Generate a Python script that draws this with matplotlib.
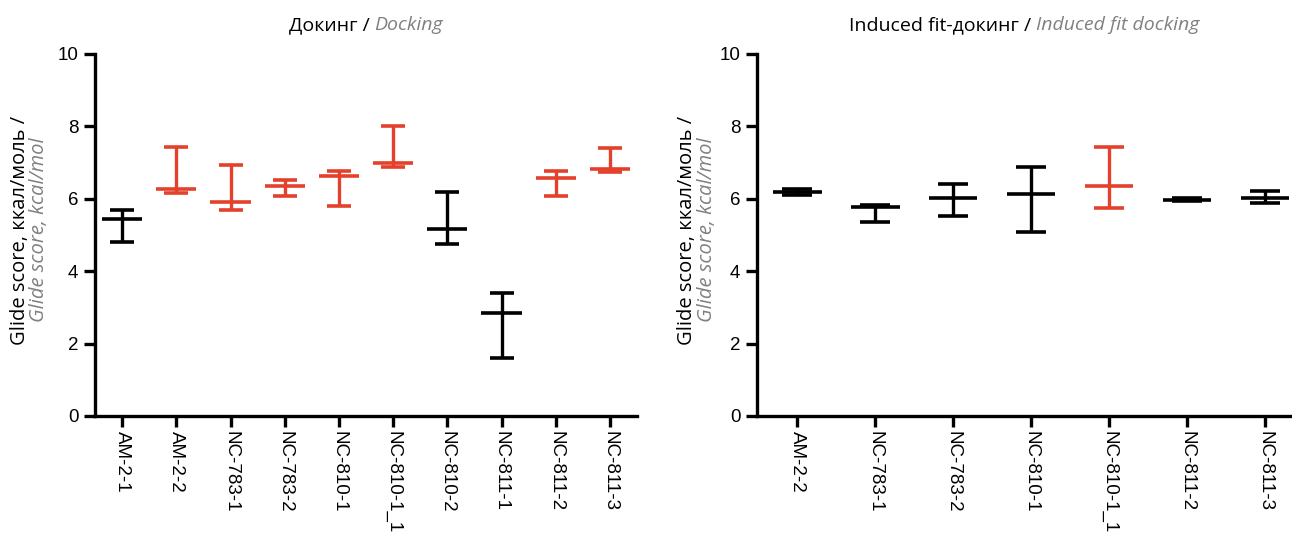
import numpy as np
import matplotlib
matplotlib.use('Agg')
import matplotlib.pyplot as plt
from matplotlib.offsetbox import TextArea, HPacker, AnchoredOffsetbox

# Docking data (min / mean / max), kcal/mol
dock_names = ['AM-2-1', 'AM-2-2', 'NC-783-1', 'NC-783-2', 'NC-810-1',
              'NC-810-1_1', 'NC-810-2', 'NC-811-1', 'NC-811-2', 'NC-811-3']
dock_mean = [5.43, 6.28, 5.91, 6.34, 6.64, 6.99, 5.17, 2.85, 6.57, 6.81]
dock_low = [4.80, 6.15, 5.68, 6.09, 5.81, 6.87, 4.76, 1.60, 6.07, 6.74]
dock_high = [5.68, 7.43, 6.92, 6.51, 6.78, 8.02, 6.18, 3.39, 6.78, 7.41]
dock_red = [False, True, True, True, True, True, False, False, True, True]

# Induced fit docking data
ifd_names = ['AM-2-2', 'NC-783-1', 'NC-783-2', 'NC-810-1', 'NC-810-1_1',
             'NC-811-2', 'NC-811-3']
ifd_mean = [6.18, 5.78, 6.03, 6.13, 6.35, 5.98, 6.01]
ifd_low = [6.10, 5.35, 5.53, 5.09, 5.74, 5.95, 5.88]
ifd_high = [6.26, 5.83, 6.40, 6.87, 7.43, 6.01, 6.22]
ifd_red = [False, False, False, False, True, False, False]

RED = '#e4402b'
W, H = 1292, 536

fig = plt.figure(figsize=(W / 100, H / 100), dpi=100)


def px_axes(x0, x1, y0, y1):
    return fig.add_axes([x0 / W, (H - y1) / H, (x1 - x0) / W, (y1 - y0) / H])


def draw_panel(ax, names, mean, low, high, red, half, cap, xlim):
    mean = np.array(mean)
    low = np.array(low)
    high = np.array(high)
    x = np.arange(len(names))
    for i in range(len(names)):
        c = RED if red[i] else 'black'
        ax.errorbar(x[i], mean[i], yerr=[[mean[i] - low[i]], [high[i] - mean[i]]],
                    fmt='none', ecolor=c, elinewidth=2.4, capsize=cap, capthick=2.6)
        ax.hlines(mean[i], x[i] - half, x[i] + half, colors=c, linewidth=2.6)
    ax.set_xlim(*xlim)
    ax.set_ylim(0, 10)
    ax.set_yticks([0, 2, 4, 6, 8, 10])
    ax.set_xticks(x)
    ax.set_xticklabels(names, rotation=-90, family='Liberation Sans', fontsize=13.5)
    for lab in ax.get_yticklabels():
        lab.set_family('Liberation Sans')
        lab.set_fontsize(13.5)
    for s in ['top', 'right']:
        ax.spines[s].set_visible(False)
    for s in ['left', 'bottom']:
        ax.spines[s].set_linewidth(2.4)
    ax.tick_params(axis='both', direction='out', length=8, width=2.4, pad=4)
    ax.tick_params(axis='x', pad=3)


def title(ax, a, b):
    t1 = TextArea(a, textprops=dict(color='black', size=14, family='Open Sans'))
    t2 = TextArea(b, textprops=dict(color='#808080', size=14, family='Open Sans',
                                    style='italic'))
    box = HPacker(children=[t1, t2], align='baseline', pad=0, sep=0)
    ab = AnchoredOffsetbox(loc='lower center', child=box, pad=0, borderpad=0,
                           frameon=False, bbox_to_anchor=(0.5, 1.055),
                           bbox_transform=ax.transAxes)
    ax.add_artist(ab)


def ylabel(xb, xg):
    yc = (H - 230) / H
    fig.text(xb / W, yc, 'Glide score, ккал/моль /', rotation=90, ha='center',
             va='center', fontsize=14.5, family='Open Sans', color='black')
    fig.text(xg / W, yc, 'Glide score, kcal/mol', rotation=90, ha='center',
             va='center', fontsize=14.5, family='Open Sans', color='#808080',
             style='italic')


ax1 = px_axes(95, 637, 54, 416)
draw_panel(ax1, dock_names, dock_mean, dock_low, dock_high, dock_red,
           0.37, 8.5, (-0.5, 9.5))
title(ax1, 'Докинг / ', 'Docking')
ylabel(20, 39)

ax2 = px_axes(757, 1292, 54, 416)
draw_panel(ax2, ifd_names, ifd_mean, ifd_low, ifd_high, ifd_red,
           0.31, 10.5, (-0.52, 6.35))
title(ax2, 'Induced fit-докинг / ', 'Induced fit docking')
ylabel(687, 707)

fig.savefig('out.png', dpi=100)
